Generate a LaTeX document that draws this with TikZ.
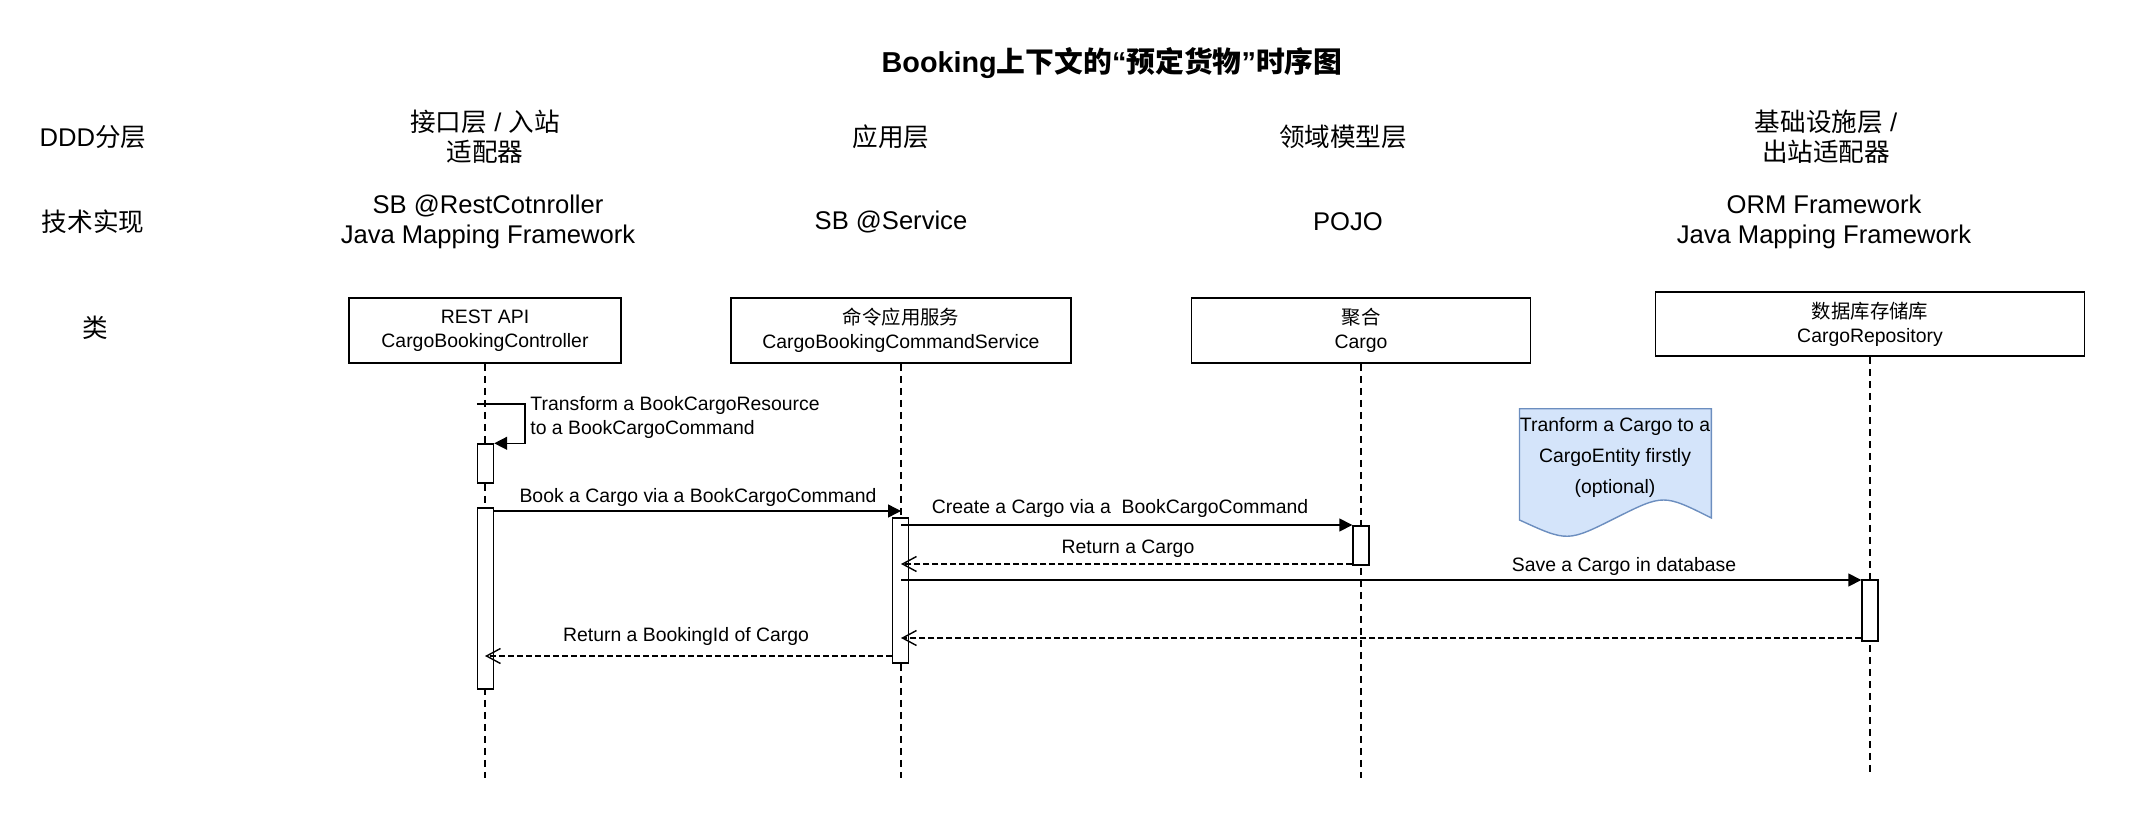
\documentclass[tikz,border=0pt]{standalone}
\usepackage{fontspec}
\setmainfont{Liberation Sans}
\newfontfamily\cjk{Noto Sans CJK SC}
\newcommand\zh[1]{{\cjk #1}}
\usetikzlibrary{positioning}
\usetikzlibrary{arrows.meta}
\definecolor{noteFill}{HTML}{D4E4FA}
\definecolor{noteLine}{HTML}{6C8EBF}

\begin{document}
\begin{tikzpicture}[x=0.5pt, y=-0.5pt,
	big/.style={font=\fontsize{12.8}{15}\selectfont, align=center, inner sep=0pt},
	small/.style={font=\fontsize{9.7}{12}\selectfont, align=center, inner sep=0pt},
	klass/.style={small, draw, line width=0.8pt, minimum height=32.5pt},
	act/.style={draw, fill=white, line width=0.7pt, minimum width=8pt, inner sep=0pt},
	life/.style={line width=0.6pt, dash pattern=on 3.5pt off 2.5pt},
	call/.style={line width=0.7pt, -{Triangle[length=6.5pt, width=6.5pt]}},
	reply/.style={line width=0.7pt, dash pattern=on 3pt off 1.5pt, -{Straight Barb[length=7pt, width=7.5pt]}}]
	\useasboundingbox (0,0) rectangle (2134,828);
	\node (title) at (1112,63) [font=\fontsize{14.4}{17}\selectfont\bfseries, inner sep=0pt] {Booking\zh{上下文的}“\zh{预定货物}”\zh{时序图}};
	\node (rowDDD) at (93,137) [big] {DDD\zh{分层}};
	\node (rowTech) at (93,222) [big] {\zh{技术实现}};
	\node (rowClass) at (95,328) [big] {\zh{类}};
	\node (layerIn) at (485,137) [big] {\zh{接口层} / \zh{入站}\\\zh{适配器}};
	\node (layerApp) at (891,137) [big] {\zh{应用层}};
	\node (layerDom) at (1343,137) [big] {\zh{领域模型层}};
	\node (layerOut) at (1826,137) [big] {\zh{基础设施层} /\\\zh{出站适配器}};
	\node (techIn) at (488,222) [big] {SB @RestCotnroller\\Java Mapping Framework};
	\node (techApp) at (891,222) [big] {SB @Service};
	\node (techDom) at (1348,222) [big] {POJO};
	\node (techOut) at (1824,222) [big] {ORM Framework\\Java Mapping Framework};
	\node (restctl) at (485,330.5) [klass, minimum width=136pt] {REST API\\CargoBookingController};
	\node (cmdsvc) at (901,330.5) [klass, minimum width=169.75pt] {\zh{命令应用服务}\\CargoBookingCommandService};
	\node (cargo) at (1361,330.5) [klass, minimum width=169.5pt] {\zh{聚合}\\Cargo};
	\node (repo) at (1870,324) [klass, minimum width=214.4pt, minimum height=32pt] {\zh{数据库存储库}\\CargoRepository};
	\coordinate (yEnd) at (0,778);
	\coordinate (yEndRepo) at (0,773);
	\draw[life] (restctl.south) -- (restctl.south |- yEnd);
	\draw[life] (cmdsvc.south) -- (cmdsvc.south |- yEnd);
	\draw[life] (cargo.south) -- (cargo.south |- yEnd);
	\draw[life] (repo.south) -- (repo.south |- yEndRepo);
	\node (actRestA) at (485.5,463.5) [act, minimum height=19.5pt] {};
	\node (actRestB) at (485.5,598.5) [act, minimum height=90.5pt] {};
	\node (actSvc) at (900.5,590.5) [act, minimum height=72.5pt] {};
	\node (actCargo) at (1361,545.5) [act, minimum height=19.5pt] {};
	\node (actRepo) at (1870,610.5) [act, minimum height=30.5pt] {};
	\coordinate (yTransform) at (0,404);
	\coordinate (yBook) at (0,511);
	\coordinate (yCreate) at (0,525);
	\coordinate (yRetCargo) at (0,564);
	\coordinate (ySave) at (0,580);
	\coordinate (yRetRepo) at (0,638);
	\coordinate (yRetId) at (0,656);
	\draw[call] (actRestA.west |- yTransform) -- ++(48,0) |- (actRestA.north east);
	\draw[call] (actRestB.east |- yBook) -- (cmdsvc.south |- yBook);
	\draw[call] (cmdsvc.south |- yCreate) -- (actCargo.west |- yCreate);
	\draw[reply] (actCargo.west |- yRetCargo) -- (cmdsvc.south |- yRetCargo);
	\draw[call] (cmdsvc.south |- ySave) -- (actRepo.west |- ySave);
	\draw[reply] (actRepo.west |- yRetRepo) -- (cmdsvc.south |- yRetRepo);
	\draw[reply] (actSvc.west |- yRetId) -- (restctl.south |- yRetId);
	\node (lTransform) at (530,417.5) [small, anchor=west, align=left] {Transform a BookCargoResource\\to a BookCargoCommand};
	\node (lBook) at (698,497) [small] {Book a Cargo via a BookCargoCommand};
	\node (lCreate) at (1120,508) [small] {Create a Cargo via a\ \ BookCargoCommand};
	\node (lRetCargo) at (1128,549) [small] {Return a Cargo};
	\node (lSave) at (1624,566) [small] {Save a Cargo in database};
	\node (lRetId) at (686,636) [small] {Return a BookingId of Cargo};
	\draw[fill=noteFill, draw=noteLine, line width=0.7pt] (1519.5,408.7) -- (1711.4,408.7) -- (1711.4,518) .. controls (1663.5,494) .. (1615.5,518) .. controls (1567.5,542) .. (1519.5,520) -- cycle;
	\node (note) at (1615,457) [small, font=\fontsize{9.7}{15.5}\selectfont] {Tranform a Cargo to a\\CargoEntity firstly\\(optional)};
\end{tikzpicture}
\end{document}
